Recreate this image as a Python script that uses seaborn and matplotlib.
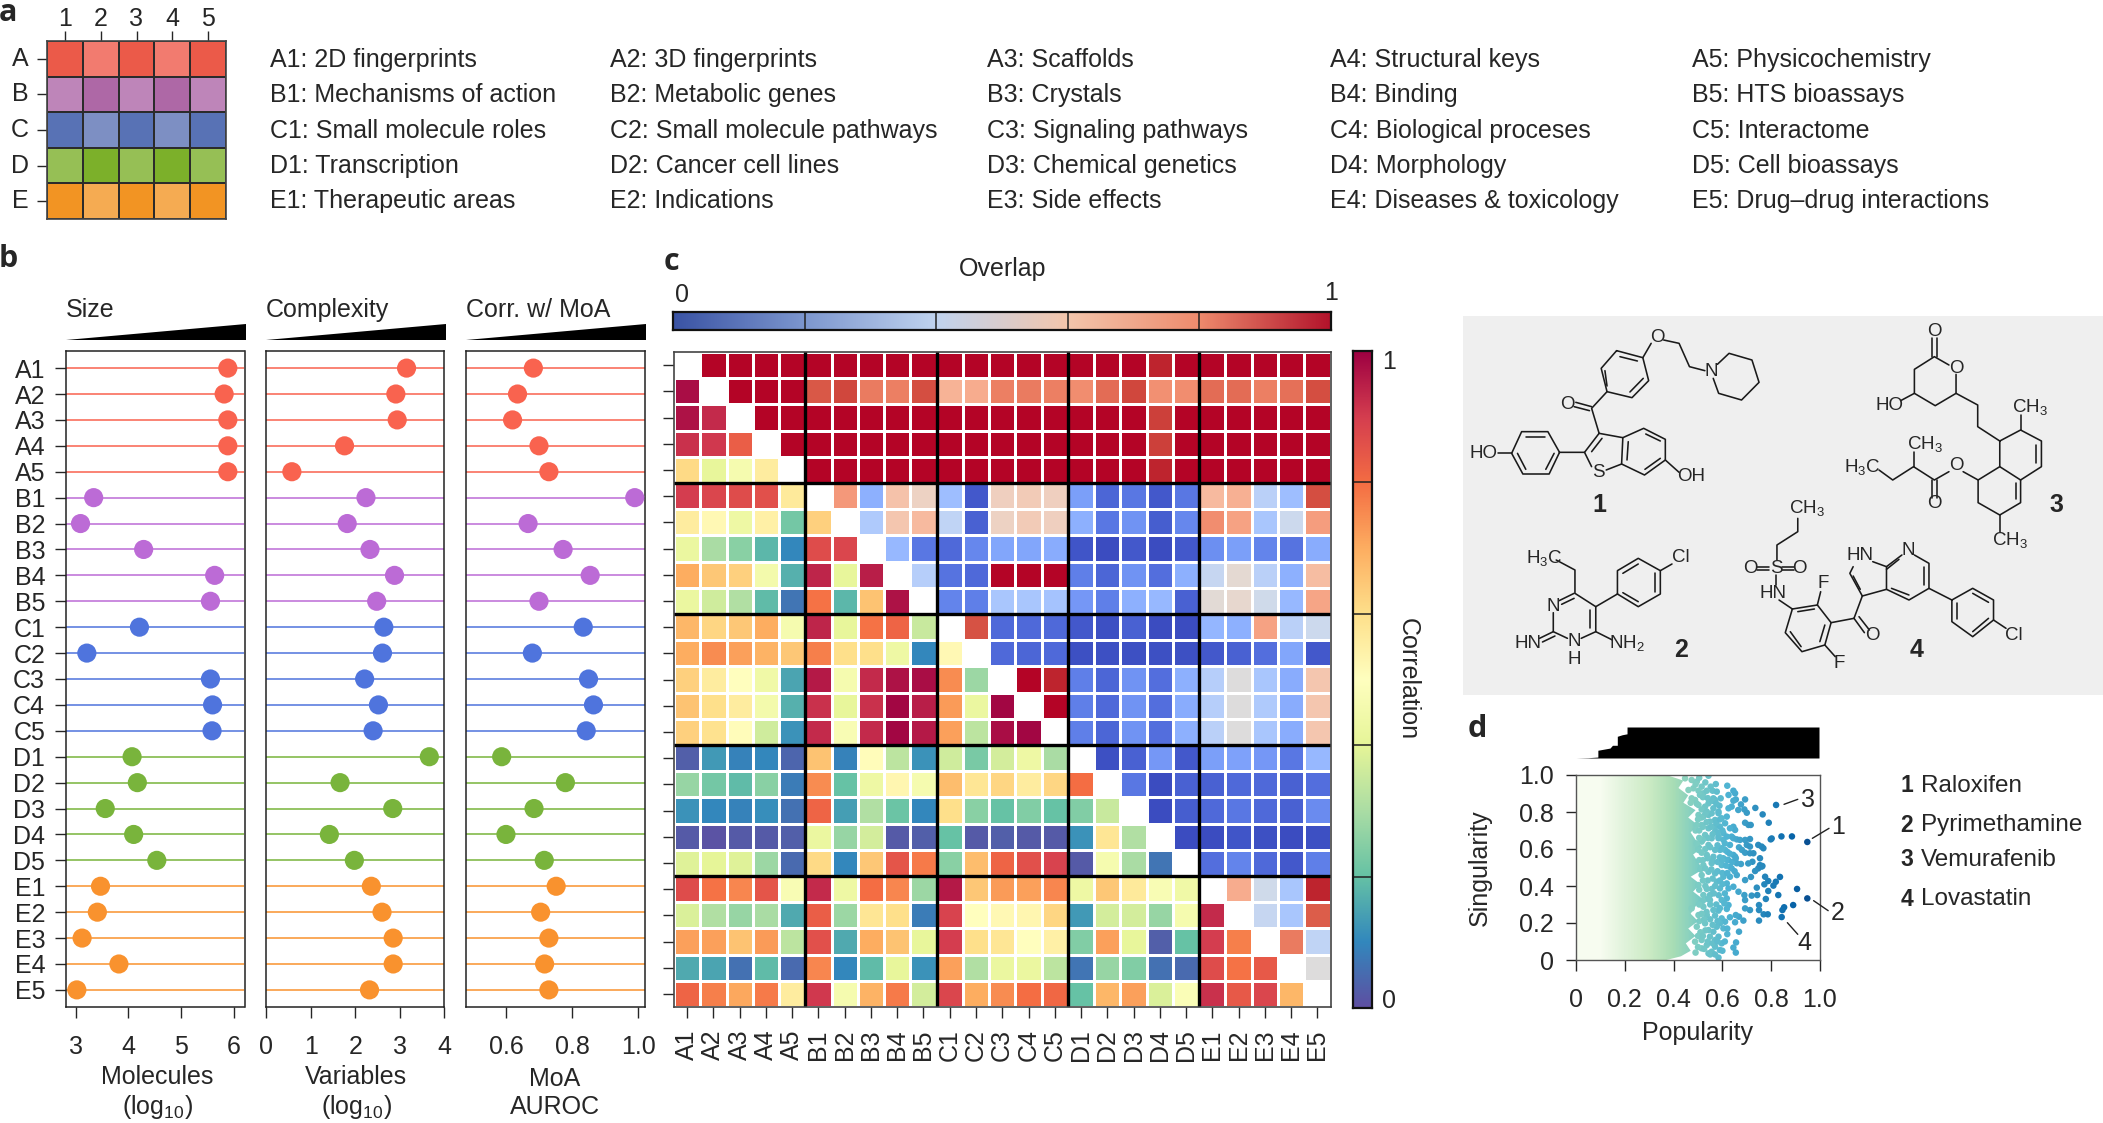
import numpy as np
import seaborn as sns
import matplotlib.pyplot as plt
from matplotlib.colors import ListedColormap, LinearSegmentedColormap
from matplotlib.patches import Polygon

sns.set_style("ticks")
plt.rcParams['font.family'] = ['Liberation Sans', 'DejaVu Sans']
plt.rcParams['mathtext.default'] = 'regular'
plt.rcParams['axes.edgecolor'] = '#222222'

W, H = 2103, 1123

# panel a
tile_rows = ['A', 'B', 'C', 'D', 'E']
tile_cols = ['1', '2', '3', '4', '5']
tile_colors = ['#EB5A49', '#F27B6F', '#BE85B9', '#AE68A6', '#5872B5',
               '#7D8FC3', '#96BF55', '#7CB02A', '#F29423', '#F5AB52']
tile_codes = [[0, 1, 0, 1, 0],
              [2, 3, 2, 3, 2],
              [4, 5, 4, 5, 4],
              [6, 7, 6, 7, 6],
              [8, 9, 8, 9, 8]]
names_1 = ['A1: 2D fingerprints', 'B1: Mechanisms of action', 'C1: Small molecule roles', 'D1: Transcription', 'E1: Therapeutic areas']
names_2 = ['A2: 3D fingerprints', 'B2: Metabolic genes', 'C2: Small molecule pathways', 'D2: Cancer cell lines', 'E2: Indications']
names_3 = ['A3: Scaffolds', 'B3: Crystals', 'C3: Signaling pathways', 'D3: Chemical genetics', 'E3: Side effects']
names_4 = ['A4: Structural keys', 'B4: Binding', 'C4: Biological proceses', 'D4: Morphology', 'E4: Diseases & toxicology']
names_5 = ['A5: Physicochemistry', 'B5: HTS bioassays', 'C5: Interactome', 'D5: Cell bioassays', 'E5: Drug–drug interactions']

# panel b
spaces = [l + n for l in tile_rows for n in tile_cols]
groups = [s[0] for s in spaces]
group_colors = {'A': '#F9634F', 'B': '#BC6BD6', 'C': '#4F74DD', 'D': '#79B43C', 'E': '#F9922E'}
molecules = [5.89, 5.82, 5.89, 5.89, 5.89, 3.34, 3.09, 4.29, 5.64, 5.56, 4.21, 3.21, 5.56, 5.60, 5.59,
             4.07, 4.17, 3.56, 4.10, 4.54, 3.47, 3.41, 3.12, 3.82, 3.02]
variables = [3.15, 2.91, 2.94, 1.76, 0.58, 2.24, 1.82, 2.33, 2.88, 2.48, 2.64, 2.61, 2.21, 2.52, 2.40,
             3.66, 1.66, 2.84, 1.42, 1.98, 2.36, 2.60, 2.85, 2.85, 2.32]
auroc = [0.683, 0.635, 0.62, 0.70, 0.73, 0.99, 0.667, 0.773, 0.855, 0.70, 0.834, 0.68, 0.85, 0.865, 0.843,
         0.587, 0.78, 0.685, 0.60, 0.716, 0.752, 0.705, 0.73, 0.717, 0.73]

# panel c, upper triangle is overlap and lower triangle is correlation
N = None
cell_rows = [
    [N, 1, 1, 1, 1, 1, 1, 1, 1, 1, 1, 1, 1, 1, 1, 1, 1, 1, .97, 1, 1, 1, 1, 1, 1],
    [.98, N, 1, 1, 1, .89, .92, .82, .81, .91, .68, .70, .81, .82, .81, .78, .85, .92, .77, .78, .85, .85, .81, .84, .91],
    [.97, .93, N, 1, 1, 1, 1, 1, 1, 1, 1, 1, 1, 1, 1, 1, 1, 1, .93, 1, 1, 1, 1, 1, 1],
    [.92, .91, .83, N, 1, 1, 1, 1, 1, 1, 1, 1, 1, 1, 1, 1, 1, 1, .93, 1, 1, 1, 1, 1, 1],
    [.61, .41, .46, .56, N, 1, 1, 1, 1, 1, 1, 1, 1, 1, 1, 1, 1, 1, .97, 1, 1, 1, 1, 1, 1],
    [.90, .88, .87, .86, .57, N, .75, .25, .63, .57, .30, .03, .58, .60, .58, .20, .06, .10, .03, .10, .66, .69, .38, .30, .91],
    [.56, .52, .43, .55, .22, .63, N, .35, .62, .66, .40, .05, .57, .60, .58, .25, .10, .17, .04, .14, .78, .73, .33, .44, .74],
    [.42, .30, .25, .18, .10, .87, .88, N, .28, .10, .07, .14, .22, .22, .24, .02, .00, .03, .00, .03, .16, .20, .13, .09, .24],
    [.70, .65, .63, .45, .17, .94, .41, .95, N, .37, .09, .07, 1, 1, 1, .12, .06, .17, .08, .25, .42, .53, .38, .25, .65],
    [.42, .36, .31, .19, .07, .79, .18, .66, .97, N, .13, .12, .33, .33, .32, .18, .12, .25, .28, .05, .52, .54, .45, .28, .72],
    [.68, .62, .65, .70, .46, .94, .41, .79, .82, .35, N, .90, .07, .07, .07, .03, .01, .05, .00, .00, .27, .25, .73, .38, .44],
    [.70, .75, .72, .69, .65, .77, .60, .60, .43, .10, .52, N, .07, .06, .07, .01, .01, .01, .01, .01, .03, .05, .08, .22, .03],
    [.63, .56, .50, .44, .15, .96, .46, .93, .97, .98, .75, .28, N, 1, .97, .12, .06, .17, .08, .25, .37, .50, .33, .24, .62],
    [.66, .60, .56, .45, .17, .92, .41, .92, .99, .95, .73, .42, .99, N, 1, .12, .07, .17, .08, .24, .37, .50, .35, .24, .62],
    [.63, .59, .51, .36, .12, .93, .47, .93, .99, .96, .72, .33, .98, .99, N, .12, .06, .17, .08, .25, .38, .50, .33, .24, .62],
    [.03, .13, .09, .10, .04, .66, .09, .51, .33, .12, .36, .23, .37, .43, .30, N, .01, .05, .18, .03, .20, .21, .18, .10, .28],
    [.27, .22, .19, .25, .08, .75, .20, .43, .53, .46, .67, .58, .62, .56, .62, .80, N, .10, .00, .05, .05, .07, .07, .05, .08],
    [.12, .10, .09, .11, .06, .82, .14, .31, .21, .10, .60, .25, .20, .24, .20, .24, .35, N, .00, .04, .07, .10, .07, .05, .15],
    [.02, .01, .02, .02, .03, .42, .27, .37, .02, .03, .20, .02, .03, .02, .02, .12, .58, .31, N, .00, .00, .02, .01, .00, .01],
    [.39, .40, .39, .28, .05, .61, .10, .65, .85, .78, .25, .67, .82, .86, .89, .02, .46, .30, .07, N, .08, .13, .07, .03, .12],
    [.87, .79, .76, .85, .47, .93, .43, .80, .76, .28, .96, .65, .73, .72, .76, .43, .65, .57, .47, .44, N, .70, .45, .33, .97],
    [.38, .31, .27, .30, .16, .83, .28, .58, .60, .08, .89, .50, .52, .53, .62, .13, .37, .37, .27, .46, .93, N, .42, .33, .88],
    [.72, .72, .66, .73, .33, .86, .16, .70, .66, .41, .90, .60, .58, .50, .55, .24, .72, .41, .03, .20, .90, .77, N, .82, .40],
    [.16, .15, .06, .19, .05, .76, .10, .19, .41, .12, .72, .31, .42, .42, .33, .07, .27, .24, .06, .05, .87, .79, .84, N, .50],
    [.82, .77, .71, .78, .56, .91, .46, .69, .78, .37, .88, .70, .75, .80, .81, .20, .68, .72, .38, .48, .92, .84, .88, .68, N],
]
overlap_bar_colors = ['#3A53A4', '#7D97CF', '#C0D3EE', '#F3C6AC', '#EE8B6D', '#B2132B']

# panel d
marginal_x = [0, .05, .09, .09, .14, .15, .17, .17, .19, .21, .21, 1]
marginal_h = [0, .01, .03, .25, .32, .41, .41, .70, .75, .78, 1, 1]
gradient_stops = [0, .25, .5, .75, 1]
edge_x = [.37, .43, .47, .45, .49, .46, .50, .47, .49, .52, .48, .51, .47, .52, .50, .48, .52, .49, .47, .50, .46, .49, .44, .46, .42, .44, .37]
edge_y = [0, .02, .05, .09, .13, .17, .21, .25, .29, .33, .37, .41, .45, .49, .53, .57, .61, .65, .69, .73, .77, .81, .85, .89, .93, .97, 1.0]
popularity = [
    .82, .948, .885, .842, .798, .802, .79, .765, .735, .693, .676, .69, .70, .665, .655, .645, .638, .625, .652, .645,
    .625, .62, .593, .588, .573, .552, .56, .563, .543, .577, .693, .707, .716, .645, .652, .631, .638, .645, .659, .672,
    .693, .713, .70, .713, .668, .68, .693, .713, .727, .747, .761, .768, .754, .723, .706, .676, .754, .747, .764, .652,
    .624, .604, .59, .611, .584, .604, .57, .618, .584, .543, .57,
    .447, .474, .495, .515, .502, .481, .461, .522, .488, .474, .508, .536, .543, .529, .515, .502, .563, .556, .536, .584,
    .597, .57, .549, .522, .502, .611, .59, .57, .543, .515, .495, .529, .556, .584, .604, .618, .631, .597, .57, .543,
    .515, .502, .536, .563, .59, .618, .645, .659, .631, .597, .556, .522,
    .948, .906, .89, .853, .846, .843, .836, .829, .819, .809, .788, .775, .772, .788, .778, .741, .717, .693, .734, .761,
    .69, .72, .743, .693, .75, .75, .713, .693, .769, .786, .75, .686, .668, .655, .631, .652, .668, .656, .645, .655, .584,
    .638, .659, .631, .604, .618, .645, .666, .625, .59, .556, .536, .577, .57, .543, .515, .502, .522, .549, .618, .597,
    .625, .608, .618, .584, .549, .522, .536, .563, .597, .611, .59, .604, .577, .563, .543, .529, .584, .57, .549, .597,
    .57, .59, .556, .536, .515, .515, .488, .543, .495, .502, .474,
    .49, .505, .53, .52, .495, .47, .54, .56, .575, .53, .515, .50, .49, .505, .52, .535, .555, .575, .59, .60,
    .58, .56, .54, .52, .505, .495, .53, .55, .58, .60, .62, .61, .515, .505, .52, .54, .56, .58, .60, .615,
    .64, .655, .63, .51, .53, .555, .58, .60, .62, .65, .59, .56, .54, .52, .505, .53, .57, .60, .61, .585,
    .565, .54, .52, .505, .55, .575, .59, .535, .515, .505, .525, .55, .57, .58, .56, .53, .51, .50, .52, .54,
    .56, .58, .525, .55, .57, .50, .49, .60, .61, .62, .62]
singularity = [
    .838, .638, .668, .668, .652, .657, .742, .787, .822, .868, .841, .814, .796, .811, .868, .861, .829, .82, .901, .915,
    .892, .942, .874, .834, .951, .937, .915, .874, .996, .91, .742, .73, .73, .72, .703, .712, .667, .658, .652, .649,
    .649, .654, .622, .613, .609, .595, .58, .577, .577, .622, .613, .604, .55, .531, .522, .519, .513, .495, .508, .559,
    .541, .55, .595, .595, .658, .685, .72, .775, .802, .784, .865,
    .982, .973, .964, .937, .915, .928, .919, .901, .865, .874, .892, .915, .847, .829, .814, .838, .82, .793, .802, .793,
    .766, .757, .748, .775, .784, .739, .721, .694, .712, .73, .73, .676, .658, .667, .649, .667, .622, .604, .595, .622,
    .64, .595, .568, .558, .555, .541, .568, .523, .504, .513, .523, .513,
    .333, .384, .297, .285, .27, .232, .449, .351, .423, .402, .427, .45, .409, .373, .33, .391, .449, .432, .481, .505,
    .351, .348, .351, .324, .297, .27, .27, .279, .247, .247, .213, .213, .234, .243, .231, .204, .153, .095, .067, .04, .013,
    .495, .459, .45, .45, .414, .396, .369, .387, .387, .384, .384, .423, .468, .477, .459, .405, .351, .351, .333, .324,
    .297, .306, .276, .267, .324, .288, .243, .27, .225, .207, .198, .171, .18, .153, .162, .198, .126, .108, .126, .09,
    .072, .054, .045, .081, .108, .063, .099, .036, .18, .243, .279,
    .95, .985, .96, .88, .845, .85, .875, .86, .845, .79, .77, .76, .70, .70, .72, .745, .72, .74, .76, .70,
    .69, .68, .66, .65, .66, .63, .60, .61, .62, .60, .585, .63, .58, .54, .54, .55, .535, .53, .54, .51,
    .53, .55, .575, .49, .495, .49, .48, .47, .47, .48, .43, .44, .43, .43, .38, .40, .40, .41, .36, .35,
    .36, .33, .32, .30, .30, .30, .28, .26, .25, .21, .22, .22, .24, .21, .19, .16, .15, .13, .13, .10,
    .09, .10, .06, .03, .03, .07, .04, .05, .10, .14, .17]

drugs = ['Raloxifen', 'Pyrimethamine', 'Vemurafenib', 'Lovastatin']


def axes_px(left, top, right, bottom):
    return fig.add_axes([left / W, 1 - bottom / H, (right - left) / W, (bottom - top) / H])


fig = plt.figure(figsize=(W / 100, H / 100), dpi=100)
page = fig.add_axes([0, 0, 1, 1], zorder=5)
page.set_xlim(0, W)
page.set_ylim(H, 0)
page.axis('off')
page.patch.set_alpha(0)

# panel letters
for letter, x, y in [('a', 8, 13), ('b', 8, 259), ('c', 671, 262), ('d', 1477, 729)]:
    page.text(x, y, letter, fontsize=22, fontweight='bold', family='Open Sans', ha='center', va='center')

# ---- a
ax_a = axes_px(47, 41, 226, 219)
sns.heatmap(tile_codes, cmap=ListedColormap(tile_colors), vmin=-.5, vmax=9.5, cbar=False,
            linewidths=1.4, linecolor='#2b2b2b', xticklabels=tile_cols, yticklabels=tile_rows, ax=ax_a)
ax_a.xaxis.tick_top()
ax_a.tick_params(axis='x', length=7, width=1, pad=0.5, labelsize=18, rotation=0)
ax_a.tick_params(axis='y', length=7, width=1, pad=6, labelsize=18, rotation=0)
for s in ax_a.spines.values():
    s.set_visible(True)
    s.set_linewidth(1.2)
    s.set_color('#444444')

for x, names in zip([270, 610, 987, 1330, 1692], [names_1, names_2, names_3, names_4, names_5]):
    for y, name in zip([60, 95, 131, 166, 201], names):
        page.text(x, y, name, fontsize=18, ha='left', va='center')

# ---- b
panels = [
    (66, 244.5, molecules, (2.814, 6.207), [3, 4, 5, 6], ['3', '4', '5', '6'], 'Size', 'Molecules\n(log$_{10}$)', 157),
    (266, 444.5, variables, (0, 4), [0, 1, 2, 3, 4], ['0', '1', '2', '3', '4'], 'Complexity', 'Variables\n(log$_{10}$)', 356),
    (466, 645, auroc, (.479, 1.021), [.6, .8, 1.0], ['0.6', '0.8', '1.0'], 'Corr. w/ MoA', 'MoA\nAUROC', 555),
]
for i, (left, right, vals, xlim, ticks, ticklabels, title, xlabel, cx) in enumerate(panels):
    ax = axes_px(left, 351, right, 1007)
    ax.hlines(range(25), xlim[0], xlim[1], colors=[group_colors[g] for g in groups], lw=1.3, alpha=.85, zorder=1)
    sns.scatterplot(x=vals, y=spaces, hue=groups, palette=group_colors, s=190, linewidth=0,
                    legend=False, clip_on=False, zorder=3, ax=ax)
    ax.set_xlim(*xlim)
    ax.set_ylim(24.66, -0.66)
    ax.set_xticks(ticks, ticklabels)
    ax.tick_params(axis='x', length=8, width=1, pad=12, labelsize=18)
    if i == 0:
        ax.tick_params(axis='y', length=8, width=1, pad=7, labelsize=18)
    else:
        ax.tick_params(axis='y', left=False, labelleft=False)
    for s in ax.spines.values():
        s.set_linewidth(1.1)
    page.text(left, 310, title, fontsize=18, ha='left', va='center')
    page.add_patch(Polygon([(left, 340), (right + 1, 340), (right + 1, 324)], closed=True, color='black', lw=0))
    page.text(cx, 1093, xlabel, fontsize=18, ha='center', va='center', linespacing=1.22)

# ---- c
ax_c = axes_px(674, 352, 1330.5, 1007)
cells = np.array(cell_rows, dtype=float)
lower_mask = np.tril(np.ones_like(cells, dtype=bool))
upper_mask = np.triu(np.ones_like(cells, dtype=bool))
sns.heatmap(cells, mask=lower_mask, cmap='coolwarm', vmin=0, vmax=1, cbar=False,
            linewidths=1.8, linecolor='white', ax=ax_c)
sns.heatmap(cells, mask=upper_mask, cmap='Spectral_r', vmin=0, vmax=1, cbar=False,
            linewidths=1.8, linecolor='white', ax=ax_c)
ax_c.set_xticks(np.arange(25) + .5, spaces, rotation=90)
ax_c.set_yticks(np.arange(25) + .5, [])
ax_c.tick_params(axis='both', length=8, width=1, labelsize=18, pad=8)
for pos in [5, 10, 15, 20]:
    ax_c.axhline(pos, color='black', lw=2.4)
    ax_c.axvline(pos, color='black', lw=2.4)
for s in ax_c.spines.values():
    s.set_visible(True)
    s.set_linewidth(1.2)
    s.set_color('#444444')

# overlap scale
ax_over = axes_px(673, 312, 1331, 330)
over_cmap = LinearSegmentedColormap.from_list('over', overlap_bar_colors)
ax_over.imshow(np.linspace(0, 1, 256)[None, :], cmap=over_cmap, aspect='auto', extent=(0, 1, 0, 1))
ax_over.vlines([.2, .4, .6, .8], 0, 1, color='#222222', lw=1.1)
ax_over.set_xticks([])
ax_over.set_yticks([])
for s in ax_over.spines.values():
    s.set_linewidth(1.6)
    s.set_color('#111111')
page.text(1003, 269, 'Overlap', fontsize=18, ha='center', va='center')
page.text(682, 295, '0', fontsize=18, ha='center', va='center')
page.text(1331, 293, '1', fontsize=18, ha='center', va='center')

# correlation scale
ax_corr = axes_px(1353, 351, 1372, 1008)
ax_corr.imshow(np.linspace(1, 0, 256)[:, None], cmap='Spectral_r', aspect='auto', extent=(0, 1, 0, 1))
ax_corr.hlines([.2, .4, .6, .8], 0, 1, color='#222222', lw=1.1)
ax_corr.set_xticks([])
ax_corr.set_yticks([])
for s in ax_corr.spines.values():
    s.set_linewidth(1.6)
    s.set_color('#111111')
page.text(1389, 362, '1', fontsize=18, ha='center', va='center')
page.text(1389, 1001, '0', fontsize=18, ha='center', va='center')
page.text(1408, 679, 'Correlation', fontsize=18, rotation=270, ha='center', va='center')

# ---- structures
page.add_patch(plt.Rectangle((1463.3, 316), W - 1463.3, 379, color='#EFEFEF', lw=0, zorder=0))
bonds = [
    # 1
    [(400, 122), (463, 143), (477, 212), (437, 263), (377, 245), (363, 175), (400, 122)],
    [(408, 140), (450, 153)], [(464, 205), (432, 246)], [(377, 228), (372, 182)],
    [(463, 143), (483, 100)], [(513, 90), (550, 100), (575, 170), (612, 182)],
    [(642, 163), (670, 130), (725, 150), (742, 217), (700, 270), (645, 250), (632, 205)],
    [(377, 245), (340, 295), (358, 370)], [(340, 290), (302, 277)], [(335, 302), (298, 290)],
    [(358, 370), (415, 383), (412, 462), (375, 480)], [(340, 470), (323, 427), (358, 370)], [(340, 425), (365, 385)],
    [(415, 383), (465, 355), (517, 388), (517, 450), (467, 495), (412, 462)],
    [(470, 372), (505, 393)], [(505, 445), (468, 478)], [(428, 395), (425, 450)],
    [(323, 427), (263, 427), (235, 365), (172, 365), (148, 430), (175, 492), (238, 492), (263, 427)],
    [(182, 380), (228, 380)], [(162, 430), (182, 478)], [(230, 478), (250, 430)],
    [(148, 430), (115, 430)], [(517, 450), (550, 487)],
    # 3
    [(1157, 85), (1157, 140)], [(1170, 85), (1170, 140)],
    [(1198, 165), (1163, 140), (1115, 178), (1115, 250), (1165, 287), (1215, 250), (1215, 193)],
    [(1115, 250), (1082, 272)], [(1215, 250), (1267, 285), (1267, 350), (1320, 393)],
    [(1320, 393), (1370, 360), (1420, 393), (1420, 470), (1370, 510), (1320, 470), (1320, 393)],
    [(1320, 470), (1268, 510), (1268, 578), (1320, 615), (1370, 578), (1370, 510)],
    [(1408, 405), (1408, 460)], [(1358, 520), (1358, 568)], [(1370, 360), (1370, 315)], [(1320, 615), (1320, 665)],
    [(1268, 510), (1232, 485)], [(1198, 485), (1163, 510), (1113, 470), (1063, 510), (1030, 480)],
    [(1157, 510), (1157, 565)], [(1170, 510), (1170, 565)], [(1113, 470), (1113, 425)],
    # 2
    [(255, 750), (300, 780), (300, 850), (350, 890), (350, 965), (315, 985)],
    [(298, 850), (262, 872)], [(298, 865), (268, 883)], [(337, 900), (337, 955)],
    [(248, 908), (248, 965), (282, 985)], [(248, 965), (215, 985)], [(252, 978), (222, 996)],
    [(350, 965), (390, 990)], [(350, 890), (402, 852), (402, 782), (452, 745), (505, 782), (505, 852), (452, 890), (402, 852)],
    [(415, 790), (452, 762)], [(493, 790), (493, 845)], [(452, 875), (415, 848)], [(505, 782), (533, 762)],
    # 4
    [(835, 625), (835, 665), (785, 705), (785, 750)], [(737, 770), (767, 770)], [(737, 780), (767, 780)],
    [(798, 770), (825, 770)], [(798, 780), (825, 780)], [(783, 795), (783, 825)], [(790, 870), (822, 897)],
    [(822, 897), (882, 885), (915, 938), (900, 1005), (845, 1025), (805, 968), (822, 897)],
    [(835, 905), (875, 897)], [(900, 945), (888, 995)], [(843, 1010), (817, 965)],
    [(882, 885), (890, 845)], [(900, 1005), (925, 1040)], [(915, 938), (970, 925)],
    [(970, 925), (995, 968)], [(982, 920), (1007, 960)], [(970, 925), (990, 858)],
    [(990, 858), (960, 790), (968, 770)], [(985, 838), (968, 798)], [(990, 858), (1048, 838), (1048, 770), (1015, 755)],
    [(1048, 838), (1102, 870), (1150, 835), (1150, 760), (1115, 735)], [(1060, 835), (1102, 855)], [(1085, 735), (1048, 770)],
    [(1078, 748), (1048, 778)], [(1138, 770), (1138, 825)],
    [(1150, 835), (1205, 870), (1255, 835), (1305, 870), (1305, 930), (1255, 980), (1205, 935), (1205, 870)],
    [(1255, 850), (1293, 877)], [(1293, 925), (1255, 965)], [(1218, 928), (1218, 878)], [(1305, 930), (1335, 955)],
]
atoms = [
    ('O', 497, 82), ('N', 628, 186), ('O', 281, 284), ('S', 357, 487), ('HO', 80, 430), ('OH', 578, 500),
    ('O', 1163, 65), ('O', 1215, 175), ('HO', 1055, 285), ('CH$_3$', 1393, 290), ('CH$_3$', 1345, 690),
    ('O', 1215, 467), ('O', 1163, 580), ('CH$_3$', 1140, 403), ('H$_3$C', 990, 470),
    ('H$_3$C', 225, 745), ('N', 248, 890), ('HN', 188, 1000), ('N', 298, 995), ('H', 298, 1050), ('NH$_2$', 425, 1000), ('Cl', 553, 742),
    ('CH$_3$', 857, 595), ('O', 722, 775), ('S', 783, 775), ('O', 840, 775), ('HN', 775, 850), ('F', 897, 820), ('F', 935, 1062),
    ('O', 1013, 977), ('HN', 985, 738), ('N', 1100, 722), ('Cl', 1353, 975),
]
compound_tags = [('1', 358, 585), ('2', 555, 1020), ('3', 1455, 585), ('4', 1120, 1020)]


def zoom_px(zx, zy):
    return 1450 + zx / 2.401, 310 + zy / 3


for line in bonds:
    xs, ys = zip(*[zoom_px(*p) for p in line])
    page.plot(xs, ys, color='#1a1a1a', lw=1.15, solid_capstyle='round')
for label, zx, zy in atoms:
    x, y = zoom_px(zx, zy)
    page.text(x, y, label, fontsize=13.5, ha='center', va='center')
for label, zx, zy in compound_tags:
    x, y = zoom_px(zx, zy)
    page.text(x, y, label, fontsize=18, fontweight='bold', ha='center', va='center')

# ---- d
ax_top = axes_px(1576, 727, 1819, 758)
ax_top.fill_between(marginal_x, marginal_h, step=None, color='black', lw=0)
ax_top.set_xlim(0, 1)
ax_top.set_ylim(0, 1)
ax_top.axis('off')

ax_d = axes_px(1576, 775, 1820, 960)
grad = ax_d.imshow([gradient_stops], cmap='GnBu', vmin=0, vmax=1, aspect='auto',
                   interpolation='bilinear', extent=(0, 1, 0, 1), zorder=1)
band = Polygon([(0, 0)] + list(zip(edge_x, edge_y)) + [(0, 1)], closed=True, transform=ax_d.transData)
grad.set_clip_path(band)
sns.scatterplot(x=popularity, y=singularity, hue=popularity, palette='GnBu', hue_norm=(0, 1), s=22,
                linewidth=0, legend=False, zorder=2, ax=ax_d)
ax_d.set_xlim(0, 1)
ax_d.set_ylim(0, 1)
tick_vals = [0, .2, .4, .6, .8, 1.0]
tick_text = ['0', '0.2', '0.4', '0.6', '0.8', '1.0']
ax_d.set_xticks(tick_vals, tick_text)
ax_d.set_yticks(tick_vals, tick_text)
ax_d.tick_params(axis='x', length=8, width=1, pad=12, labelsize=18)
ax_d.tick_params(axis='y', length=7, width=1, pad=9, labelsize=18)
for s in ax_d.spines.values():
    s.set_linewidth(1)
    s.set_color('#555555')
page.text(1697, 1033, 'Popularity', fontsize=18, ha='center', va='center')
page.text(1480, 868, 'Singularity', fontsize=18, rotation=90, ha='center', va='center')

# callouts for the four compounds
callouts = [('1', (870, 415), (910, 385), (932, 375)), ('2', (873, 602), (908, 632), (932, 632)),
            ('3', (802, 313), (835, 298), (860, 293)), ('4', (810, 668), (835, 703), (852, 722))]
for label, p0, p1, p2 in callouts:
    (x0, y0), (x1, y1) = [(1450 + a / 2.401, 700 + b / 3) for a, b in (p0, p1)]
    page.plot([x0, x1], [y0, y1], color='#222222', lw=1)
    page.text(1450 + p2[0] / 2.401, 702 + p2[1] / 3, label, fontsize=18, ha='center', va='center')

for k, (drug, y) in enumerate(zip(drugs, [786, 825, 860, 899])):
    page.text(1900.6, y, str(k + 1), fontsize=16.5, fontweight='bold', ha='left', va='center')
    page.text(1920.6, y, drug, fontsize=17.5, ha='left', va='center')

fig.savefig('out.png', dpi=100)
